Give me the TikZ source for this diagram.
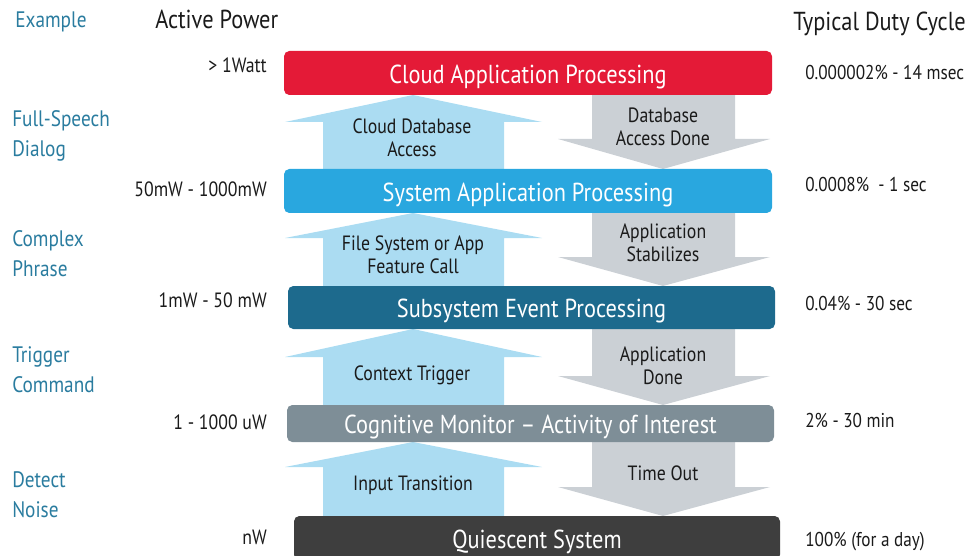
\documentclass[tikz,border=0pt]{standalone}
\usepackage{fontspec}
\setmainfont{PT Sans}[FakeStretch=0.86]
\definecolor{cred}{HTML}{E41A37}
\definecolor{cblue}{HTML}{29A7DF}
\definecolor{cteal}{HTML}{1D6A8D}
\definecolor{cgray}{HTML}{7E8E97}
\definecolor{cdark}{HTML}{3E3E3E}
\definecolor{arrblue}{HTML}{ABDCF2}
\definecolor{arrgray}{HTML}{CBD0D5}
\definecolor{extext}{HTML}{2A7C9F}
\definecolor{ctext}{HTML}{1A1A1A}
\begin{document}
\begin{tikzpicture}[x=0.75pt,y=-0.75pt,
  box/.style={rounded corners=4pt, inner sep=0pt, text=white, text height=15.1pt, text depth=0pt,
    font=\fontsize{19.5pt}{22pt}\selectfont},
  uparr/.style={fill=arrblue, draw=none},
  dnarr/.style={fill=arrgray, draw=none},
  alabel/.style={align=center, text=ctext, font=\fontsize{15.5pt}{17pt}\selectfont, inner sep=0pt},
  example/.style={anchor=base west, text=extext, font=\fontsize{16.8pt}{19pt}\selectfont, inner sep=0pt},
  header/.style={anchor=base west, text=ctext, font=\fontsize{19.5pt}{22pt}\selectfont, inner sep=0pt},
  power/.style={anchor=base east, text=ctext, font=\fontsize{15.5pt}{18pt}\selectfont, inner sep=0pt},
  duty/.style={anchor=base west, text=ctext, font=\fontsize{15pt}{18pt}\selectfont, inner sep=0pt}]
\useasboundingbox (0,0) rectangle (971,556);

% arrows (drawn first, boxes cover their ends)
% pair 1
\fill[uparr] (323,169) -- (323,122) -- (285,122) -- (413,95) -- (542,122) -- (504,122) -- (504,169) -- cycle;
\fill[dnarr] (592,95) -- (592,139) -- (558,139) -- (663,169) -- (770,139) -- (735,139) -- (735,95) -- cycle;
% pair 2
\fill[uparr] (323,286) -- (323,238) -- (285,238) -- (413,213) -- (542,238) -- (504,238) -- (504,286) -- cycle;
\fill[dnarr] (592,213) -- (592,257) -- (558,257) -- (663,286) -- (770,257) -- (735,257) -- (735,213) -- cycle;
% pair 3
\fill[uparr] (323,405) -- (323,357) -- (285,357) -- (413,329) -- (542,357) -- (504,357) -- (504,405) -- cycle;
\fill[dnarr] (592,329) -- (592,376) -- (558,376) -- (663,405) -- (770,376) -- (735,376) -- (735,329) -- cycle;
% pair 4
\fill[uparr] (323,516) -- (323,467) -- (285,467) -- (413,442) -- (542,467) -- (504,467) -- (504,516) -- cycle;
\fill[dnarr] (592,442) -- (592,487) -- (558,487) -- (663,516) -- (770,487) -- (735,487) -- (735,442) -- cycle;

% boxes
\node[box, fill=cred, minimum width=366pt, minimum height=33pt] (cloud) at (528,73) {Cloud Application Processing};
\node[box, fill=cblue, minimum width=366pt, minimum height=33pt] (sys) at (528,191) {System Application Processing};
\node[box, fill=cteal, minimum width=365.25pt, minimum height=32.25pt] (sub) at (531.5,307.5) {Subsystem Event Processing};
\node[box, fill=cgray, minimum width=365.25pt, minimum height=27.75pt] (cog) at (530.5,423.5) {Cognitive Monitor -- Activity of Interest};
\node[box, fill=cdark, minimum width=364.5pt, minimum height=33pt] (qui) at (537,538) {Quiescent System};

% arrow labels
\node[alabel] (l1u) at (412,138) {Cloud Database\\Access};
\node[alabel] (l1d) at (663,127) {Database\\Access Done};
\node[alabel] (l2u) at (413,255) {File System or App\\Feature Call};
\node[alabel] (l2d) at (663,243) {Application\\Stabilizes};
\node[alabel] (l3u) at (412,375) {Context Trigger};
\node[alabel] (l3d) at (663,366) {Application\\Done};
\node[alabel] (l4u) at (413,485) {Input Transition};
\node[alabel] (l4d) at (663,473) {Time Out};

% headers
\node[example] (hex) at (15,28) {Example};
\node[header] (hap) at (155,29) {Active Power};
\node[header] (hdc) at (793,31) {Typical Duty Cycle};

% examples
\node[example] (e1a) at (12,127) {Full-Speech};
\node[example] (e1b) at (12,157) {Dialog};
\node[example] (e2a) at (12,246) {Complex};
\node[example] (e2b) at (12,276) {Phrase};
\node[example] (e3a) at (12,362) {Trigger};
\node[example] (e3b) at (12,392) {Command};
\node[example] (e4a) at (12,487) {Detect};
\node[example] (e4b) at (12,517) {Noise};

% power
\node[power] (p1) at (267,73) {> 1Watt};
\node[power] (p2) at (267,197) {50mW - 1000mW};
\node[power] (p3) at (267,307) {1mW - 50 mW};
\node[power] (p4) at (267,429) {1 - 1000 uW};
\node[power] (p5) at (267,544) {nW};

% duty
\node[duty] (d1) at (805,80) {0.000002\% - 14 msec};
\node[duty] (d2) at (805,191) {0.0008\%\ \ - 1 sec};
\node[duty] (d3) at (805,310) {0.04\% - 30 sec};
\node[duty] (d4) at (805,427) {2\% - 30 min};
\node[duty] (d5) at (805,546) {100\% (for a day)};
\end{tikzpicture}
\end{document}
